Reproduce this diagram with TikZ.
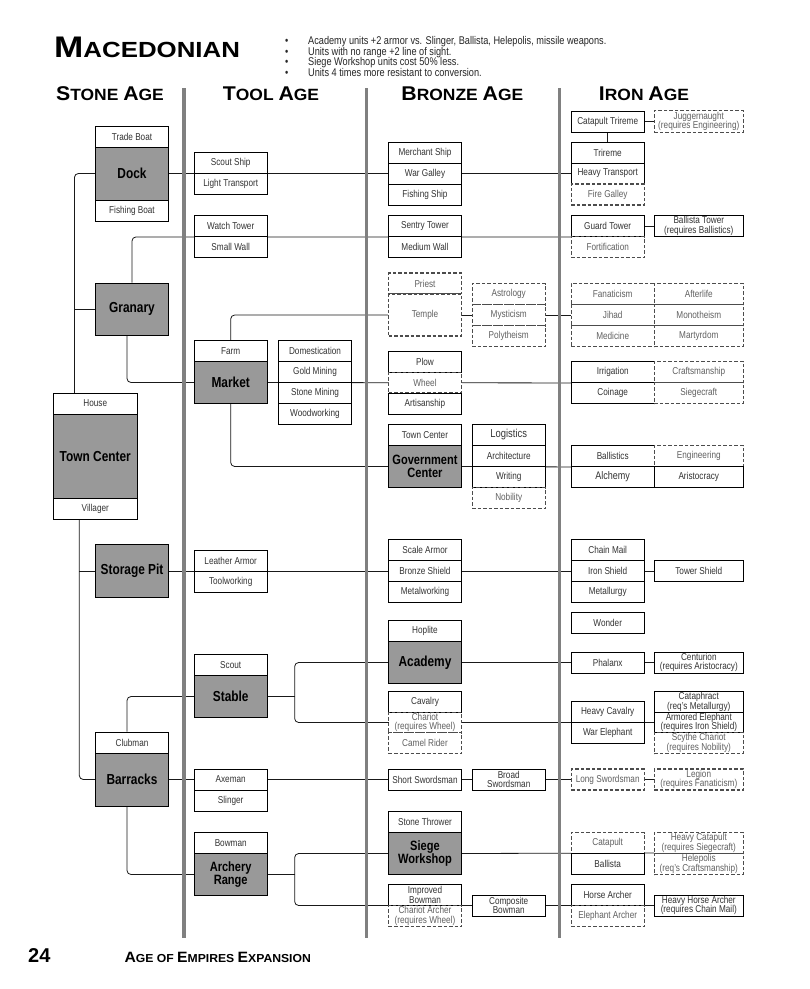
\documentclass[tikz,border=0pt]{standalone}
\usepackage{fontspec}
\setmainfont{Liberation Sans}[FakeStretch=0.82]
\newfontfamily\headfont{Liberation Sans}
\usepackage{graphicx}
\usetikzlibrary{backgrounds}

\newcommand{\capital}[2][1.36]{\scalebox{#1}{#2}}

\begin{document}
\begin{tikzpicture}[
    x=1pt, y=-1pt,
    every node/.style={font=\fontsize{10}{9.5}\selectfont, text=black!80},
    cell/.style={
        draw=black,
        line width=0.9pt,
        fill=white,
        inner sep=0pt,
        minimum width=73,
        minimum height=21,
        align=center
    },
    lcell/.style={cell, minimum width=83},
    wcell/.style={cell, minimum width=89},
    opt/.style={
        draw=black!70,
        line width=1.1pt,
        dash pattern=on 3.5pt off 2pt,
        text=black!62
    },
    building/.style={
        cell,
        fill=black!40,
        text=black,
        font=\bfseries\fontsize{14.5}{13}\selectfont
    },
    twoline/.style={font=\bfseries\fontsize{13.5}{13}\selectfont},
    link/.style={
        draw=black!90,
        line width=0.8pt,
        rounded corners=4pt
    },
    divider/.style={draw=black!50, line width=3.5pt},
    agehead/.style={
        anchor=base,
        text=black,
        font=\headfont\bfseries\fontsize{16.3}{16}\selectfont
    }
]

\useasboundingbox (0,0) rectangle (810,989);

% ============================================================
% HEADER
% ============================================================

\node[anchor=base west, inner sep=0pt, text=black,
    font=\headfont\bfseries\fontsize{21.9}{22}\selectfont] (title) at (54,57.3)
{\scalebox{1.18}[1]{\capital{M}ACEDONIAN}};

\node[anchor=north west, align=left, inner sep=0pt, text=black!85,
    font=\fontsize{11.2}{10.5}\selectfont] (notes) at (285,36.5)
{
\makebox[23pt][l]{\textbullet}Academy units +2 armor vs. Slinger, Ballista, Helepolis, missile weapons.\\
\makebox[23pt][l]{\textbullet}Units with no range +2 line of sight.\\
\makebox[23pt][l]{\textbullet}Siege Workshop units cost 50\% less.\\
\makebox[23pt][l]{\textbullet}Units 4 times more resistant to conversion.
};

\node[agehead] (stoneage) at (110,100) {\scalebox{1.07}[1]{\capital[1.22]{S}TONE \capital[1.22]{A}GE}};
\node[agehead] (toolage) at (271,100) {\scalebox{1.07}[1]{\capital[1.22]{T}OOL \capital[1.22]{A}GE}};
\node[agehead] (bronzeage) at (462.3,100) {\scalebox{1.07}[1]{\capital[1.22]{B}RONZE \capital[1.22]{A}GE}};
\node[agehead] (ironage) at (644,100) {\scalebox{1.07}[1]{\capital[1.22]{I}RON \capital[1.22]{A}GE}};

% Separadores
\draw[divider] (184,88) -- (184,938);
\draw[divider] (366.7,88) -- (366.7,938);
\draw[divider] (559.7,88) -- (559.7,938);

% ============================================================
% STONE AGE
% ============================================================

\node[cell] (tradeboat) at (132,136.5) {Trade Boat};
\node[building, minimum height=53] (dock) at (132,173.5) {Dock};
\node[cell] (fishingboat) at (132,210.5) {Fishing Boat};

\node[building, minimum height=52] (granary) at (132,309) {Granary};

\node[cell, minimum width=84.5] (house) at (95.3,403.5) {House};
\node[building, minimum width=84.5, minimum height=84] (towncenter) at (95.3,456) {Town Center};
\node[cell, minimum width=84.5] (villager) at (95.3,508.5) {Villager};

\node[building, minimum height=53] (storagepit) at (132,571) {Storage Pit};

\node[cell] (clubman) at (132,742.5) {Clubman};
\node[building, minimum height=53] (barracks) at (132,779.5) {Barracks};

% ============================================================
% TOOL AGE
% ============================================================

\node[cell] (scoutship) at (230.7,163) {Scout Ship};
\node[cell] (lighttransport) at (230.7,184) {Light Transport};

\node[cell] (watchtower) at (230.7,226) {Watch Tower};
\node[cell] (smallwall) at (230.7,247) {Small Wall};

\node[cell] (farm) at (230.7,351) {Farm};
\node[building, minimum height=42] (market) at (230.7,382.5) {Market};
\node[cell] (domestication) at (315,351) {Domestication};
\node[cell] (goldmining) at (315,372) {Gold Mining};
\node[cell] (stonemining) at (315,393) {Stone Mining};
\node[cell] (woodworking) at (315,414) {Woodworking};

\node[cell] (leatherarmor) at (230.7,560.5) {Leather Armor};
\node[cell] (toolworking) at (230.7,581.5) {Toolworking};

\node[cell] (scout) at (230.7,665) {Scout};
\node[building, minimum height=42] (stable) at (230.7,696.5) {Stable};

\node[cell] (axeman) at (230.7,779.5) {Axeman};
\node[cell] (slinger) at (230.7,800.5) {Slinger};

\node[cell] (bowman) at (230.7,843) {Bowman};
\node[building, twoline, minimum height=42] (archery) at (230.7,874.5) {Archery\\Range};

% ============================================================
% BRONZE AGE
% ============================================================

\node[cell] (merchantship) at (425,152.5) {Merchant Ship};
\node[cell] (wargalley) at (425,173.5) {War Galley};
\node[cell] (fishingship) at (425,194.5) {Fishing Ship};

\node[cell] (sentrytower) at (425,226) {Sentry Tower};
\node[cell] (mediumwall) at (425,247) {Medium Wall};

\node[cell, opt] (priest) at (425,283.5) {Priest};
\node[cell, opt, minimum height=42] (temple) at (425,315) {Temple};
\node[cell, opt] (astrology) at (508.7,294) {Astrology};
\node[cell, opt] (mysticism) at (508.7,315) {Mysticism};
\node[cell, opt] (polytheism) at (508.7,336) {Polytheism};

\node[cell] (plow) at (425,362) {Plow};
\node[cell, opt, minimum height=20] (wheel) at (425,382.5) {Wheel};
\node[cell] (artisanship) at (425,403.5) {Artisanship};

\node[cell] (towncenterb) at (425,435) {Town Center};
\node[building, twoline, minimum height=42] (govcenter) at (425,466.5) {Government\\Center};
\node[cell, font=\fontsize{11.5}{11}\selectfont] (logistics) at (508.7,435) {Logistics};
\node[cell] (architecture) at (508.7,456) {Architecture};
\node[cell] (writing) at (508.7,477) {Writing};
\node[cell, opt] (nobility) at (508.7,498) {Nobility};

\node[cell] (scalearmor) at (425,550) {Scale Armor};
\node[cell] (bronzeshield) at (425,571) {Bronze Shield};
\node[cell] (metalworking) at (425,592) {Metalworking};

\node[cell] (hoplite) at (425,631) {Hoplite};
\node[building, minimum height=42] (academy) at (425,662.5) {Academy};

\node[cell] (cavalry) at (425,702) {Cavalry};
\node[cell, opt, minimum height=20] (chariot) at (425,722.5) {Chariot\\(requires Wheel)};
\node[cell, opt] (camelrider) at (425,743) {Camel Rider};

\node[cell] (shortswordsman) at (425,779.5) {Short Swordsman};
\node[cell] (broadswordsman) at (508.7,779.5) {Broad\\Swordsman};

\node[cell] (stonethrower) at (425,822) {Stone Thrower};
\node[building, twoline, minimum height=42] (siegeworkshop) at (425,853.5) {Siege\\Workshop};

\node[cell] (improvedbowman) at (425,895) {Improved\\Bowman};
\node[cell, opt] (chariotarcher) at (425,916) {Chariot Archer\\(requires Wheel)};
\node[cell] (compositebowman) at (508.7,905.5) {Composite\\Bowman};

% ============================================================
% IRON AGE
% ============================================================

\node[cell] (catapulttrireme) at (607.7,121.5) {Catapult Trireme};
\node[wcell, opt, minimum height=22] (juggernaught) at (698.8,121.5) {Juggernaught\\(requires Engineering)};

\node[cell] (trireme) at (607.7,152.5) {Trireme};
\node[cell] (heavytransport) at (607.7,173.5) {Heavy Transport};
\node[cell, opt] (firegalley) at (607.7,194.5) {Fire Galley};

\node[cell] (guardtower) at (607.7,226) {Guard Tower};
\node[cell, opt] (fortification) at (607.7,247) {Fortification};
\node[wcell] (ballistatower) at (698.8,226) {Ballista Tower\\(requires Ballistics)};

\node[lcell, opt] (fanaticism) at (612.7,294) {Fanaticism};
\node[lcell, opt] (jihad) at (612.7,315) {Jihad};
\node[lcell, opt] (medicine) at (612.7,336) {Medicine};
\node[wcell, opt] (afterlife) at (698.8,294) {Afterlife};
\node[wcell, opt] (monotheism) at (698.8,315) {Monotheism};
\node[wcell, opt] (martyrdom) at (698.8,336) {Martyrdom};

\node[lcell] (irrigation) at (612.7,372) {Irrigation};
\node[lcell] (coinage) at (612.7,393) {Coinage};
\node[wcell, opt] (craftsmanship) at (698.8,372) {Craftsmanship};
\node[wcell, opt] (siegecraft) at (698.8,393) {Siegecraft};

\node[lcell] (ballistics) at (612.7,456) {Ballistics};
\node[lcell, font=\fontsize{11}{11}\selectfont] (alchemy) at (612.7,477) {Alchemy};
\node[wcell, opt] (engineering) at (698.8,456) {Engineering};
\node[wcell] (aristocracy) at (698.8,477) {Aristocracy};

\node[cell] (chainmail) at (607.7,550) {Chain Mail};
\node[cell] (ironshield) at (607.7,571) {Iron Shield};
\node[cell] (metallurgy) at (607.7,592) {Metallurgy};
\node[wcell] (towershield) at (698.8,571) {Tower Shield};

\node[cell] (wonder) at (607.7,623) {Wonder};

\node[cell] (phalanx) at (607.7,662.5) {Phalanx};
\node[wcell] (centurion) at (698.8,662.5) {Centurion\\(requires Aristocracy)};

\node[cell] (heavycavalry) at (607.7,712) {Heavy Cavalry};
\node[cell] (warelephant) at (607.7,733) {War Elephant};
\node[wcell] (cataphract) at (698.8,702) {Cataphract\\(req’s Metallurgy)};
\node[wcell, minimum height=20] (armoredelephant) at (698.8,722.5) {Armored Elephant\\(requires Iron Shield)};
\node[wcell, opt] (scythechariot) at (698.8,743) {Scythe Chariot\\(requires Nobility)};

\node[cell, opt] (longswordsman) at (607.7,779.5) {Long Swordsman};
\node[wcell, opt] (legion) at (698.8,779.5) {Legion\\(requires Fanaticism)};

\node[cell, opt] (catapult) at (607.7,843) {Catapult};
\node[cell] (ballista) at (607.7,864) {Ballista};
\node[wcell, opt] (heavycatapult) at (698.8,843) {Heavy Catapult\\(requires Siegecraft)};
\node[wcell, opt] (helepolis) at (698.8,864) {Helepolis\\(req’s Craftsmanship)};

\node[cell] (horsearcher) at (607.7,895) {Horse Archer};
\node[cell, opt] (elephantarcher) at (607.7,916) {Elephant Archer};
\node[wcell] (heavyhorsearcher) at (698.8,905.5) {Heavy Horse Archer\\(requires Chain Mail)};

% ============================================================
% FOOTER
% ============================================================

\node[anchor=base west, inner sep=0pt, text=black,
    font=\headfont\bfseries\fontsize{20}{20}\selectfont] (pagenum) at (28,962.5) {24};
\node[anchor=base west, inner sep=0pt, text=black,
    font=\headfont\bfseries\fontsize{11.6}{12}\selectfont] (booktitle) at (124.3,962.5)
{\scalebox{1.05}[1]{\capital[1.29]{A}GE OF \capital[1.29]{E}MPIRES \capital[1.29]{E}XPANSION}};

% ============================================================
% LIGACOES
% ============================================================

\begin{scope}[on background layer]
\fill[white] (0,0) rectangle (810,989);

% Dock e Granary
\coordinate (docktrunk) at (74.4,393);
\draw[link] (dock.west) -| (docktrunk);
\draw[link] (granary.west) -- (granary.west -| docktrunk);
\draw[link] (dock.east) -- (dock.east -| heavytransport.west);
\draw[link] (catapulttrireme.south) -- (trireme.north);
\draw[link] (catapulttrireme.east) -- (juggernaught.west);
\draw[link] (granary.north) |- (guardtower.south west);
\draw[link] (guardtower.east) -- (ballistatower.west);
\draw[link] ([xshift=-5pt]granary.south) |- (market.west);

% Market
\draw[link] (farm.north) |- (temple.west);
\draw[link] (temple.east) -- (mysticism.west);
\draw[link] (mysticism.east) -- (jihad.west);
\draw[link] (market.east) -- (irrigation.south west);
\draw[link] (market.south) |- (govcenter.west);
\draw[link] (govcenter.east) -- (ballistics.south west);

% Town Center
\coordinate (vtrunk) at ([xshift=-16pt]villager.south);
\draw[link] (vtrunk) |- (barracks.west);
\draw[link] (storagepit.west) -- (storagepit.west -| vtrunk);
\draw[link] (storagepit.east) -- (ironshield.west);
\draw[link] (ironshield.east) -- (towershield.west);

% Barracks
\draw[link] ([xshift=-5pt]clubman.north) |- (stable.west);
\draw[link] (barracks.east) -- (shortswordsman.west);
\draw[link] (shortswordsman.east) -- (broadswordsman.west);
\draw[link] (broadswordsman.east) -- (longswordsman.west);
\draw[link] (longswordsman.east) -- (legion.west);
\draw[link] ([xshift=-5pt]barracks.south) |- (archery.west);

% Stable
\coordinate (stablefork) at ([xshift=27pt]stable.east);
\draw[link] (stable.east) -- (stablefork);
\draw[link] (stablefork) |- (academy.west);
\draw[link] (stablefork) |- (armoredelephant.west);
\draw[link] (academy.east) -- (phalanx.west);
\draw[link] (phalanx.east) -- (centurion.west);

% Archery Range
\coordinate (archeryfork) at ([xshift=27pt]archery.east);
\draw[link] (archery.east) -- (archeryfork);
\draw[link] (archeryfork) |- (siegeworkshop.west);
\draw[link] (archeryfork) |- (heavyhorsearcher.west);
\draw[link] (siegeworkshop.east) -- (helepolis.north west);
\end{scope}

\end{tikzpicture}
\end{document}
